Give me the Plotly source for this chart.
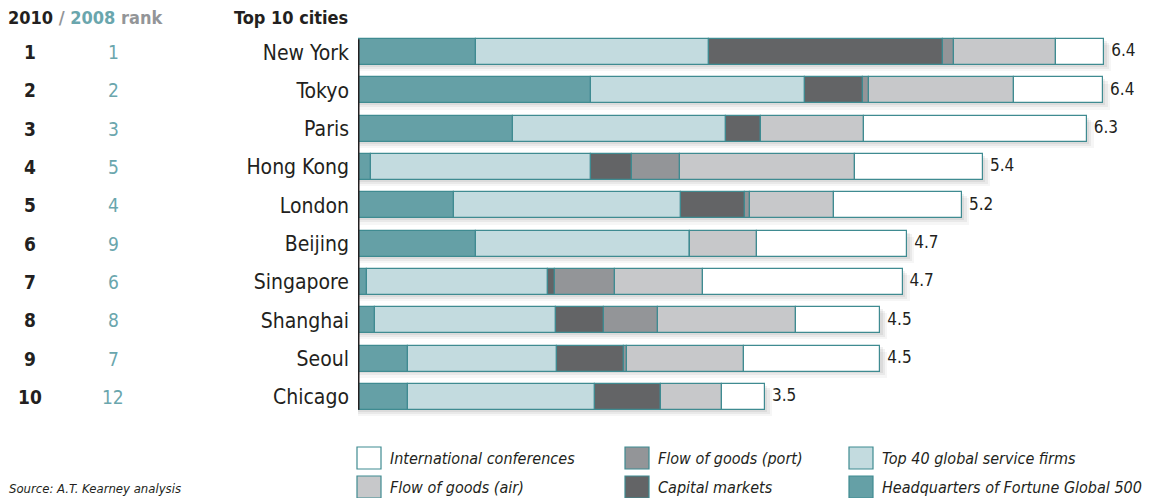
import plotly.graph_objects as go

cities = ["New York", "Tokyo", "Paris", "Hong Kong", "London", "Beijing",
          "Singapore", "Shanghai", "Seoul", "Chicago"]
rank_2010 = ["1", "2", "3", "4", "5", "6", "7", "8", "9", "10"]
rank_2008 = ["1", "2", "3", "5", "4", "9", "6", "8", "7", "12"]
totals = ["6.4", "6.4", "6.3", "5.4", "5.2", "4.7", "4.7", "4.5", "4.5", "3.5"]

hq_fortune = [1.01, 2.00, 1.33, 0.11, 0.82, 1.01, 0.08, 0.15, 0.43, 0.43]
top40_firms = [2.00, 1.83, 1.83, 1.89, 1.95, 1.84, 1.55, 1.55, 1.28, 1.60]
capital_mkts = [2.01, 0.50, 0.30, 0.35, 0.55, 0.00, 0.06, 0.41, 0.57, 0.57]
goods_port = [0.09, 0.05, 0.00, 0.41, 0.04, 0.00, 0.51, 0.46, 0.03, 0.00]
goods_air = [0.88, 1.25, 0.88, 1.50, 0.72, 0.57, 0.76, 1.19, 1.00, 0.52]
conferences = [0.41, 0.76, 1.91, 1.10, 1.10, 1.29, 1.71, 0.72, 1.17, 0.37]

series = [
    ("Headquarters of Fortune Global 500", hq_fortune, "#65a0a6"),
    ("Top 40 global service firms", top40_firms, "#c3dbdf"),
    ("Capital markets", capital_mkts, "#636466"),
    ("Flow of goods (port)", goods_port, "#939598"),
    ("Flow of goods (air)", goods_air, "#c7c8ca"),
    ("International conferences", conferences, "#ffffff"),
]

W, H = 1152, 498
ML, MR, MT, MB = 358, 0, 33, 82
PW, PH = W - ML - MR, H - MT - MB
SCALE = 116.6  # px per unit
XMAX = PW / SCALE
BAR_W = 0.68
BORDER = "#3f8b91"
DARK = "#231f20"
TEAL_TXT = "#6aa6ad"
GREY_TXT = "#939598"
FONT = "Liberation Sans Narrow, DejaVu Sans Condensed, Roboto, sans-serif"


def px_x(px):
    return (px - ML) / PW


def px_y(py):
    return (H - MB - py) / PH


fig = go.Figure()
idx = list(range(len(cities)))
sums = [sum(s[1][i] for s in series) for i in idx]

# soft drop shadow beneath each bar
for dy, dx, alpha in [(0.16, 0.06, 0.035), (0.10, 0.04, 0.05), (0.05, 0.02, 0.06)]:
    fig.add_trace(go.Bar(
        y=idx, x=[s + dx for s in sums], base=[0] * len(idx), orientation="h",
        width=BAR_W, offset=-BAR_W / 2 + dy,
        marker=dict(color="rgba(0,0,0,%s)" % alpha, line=dict(width=0)),
        showlegend=False, hoverinfo="skip",
    ))

base = [0.0] * len(idx)
for name, vals, col in series:
    fig.add_trace(go.Bar(
        y=idx, x=vals, base=list(base), orientation="h", name=name,
        width=BAR_W, offset=-BAR_W / 2,
        marker=dict(color=col, line=dict(color=BORDER, width=1.2)),
        showlegend=False, hoverinfo="x+name",
    ))
    base = [b + v for b, v in zip(base, vals)]

# totals labels
fig.add_trace(go.Scatter(
    y=idx, x=[s + 0.06 for s in sums], mode="text", text=totals,
    textposition="middle right",
    textfont=dict(family=FONT, size=17, color=DARK), showlegend=False,
    hoverinfo="skip",
))

shapes = [dict(type="line", xref="x", yref="y", x0=0, x1=0,
               y0=-BAR_W / 2, y1=len(cities) - 1 + BAR_W / 2,
               line=dict(color=DARK, width=3))]
annotations = []

# rank columns
for i in idx:
    annotations.append(dict(xref="paper", yref="y", x=px_x(30), y=i,
                            text="<b>%s</b>" % rank_2010[i], showarrow=False,
                            font=dict(family=FONT, size=19, color=DARK),
                            xanchor="center", yanchor="middle"))
    annotations.append(dict(xref="paper", yref="y", x=px_x(113), y=i,
                            text=rank_2008[i], showarrow=False,
                            font=dict(family=FONT, size=19, color=TEAL_TXT),
                            xanchor="center", yanchor="middle"))

# headers
annotations.append(dict(
    xref="paper", yref="paper", x=px_x(6), y=px_y(17),
    text=("<b><span style='color:%s'>2010</span> <span style='color:%s'>/</span> "
          "<span style='color:%s'>2008</span> <span style='color:%s'>rank</span></b>")
    % (DARK, GREY_TXT, TEAL_TXT, GREY_TXT),
    showarrow=False, xanchor="left", yanchor="middle",
    font=dict(family=FONT, size=18, color=DARK)))
annotations.append(dict(
    xref="paper", yref="paper", x=px_x(350), y=px_y(17),
    text="<b>Top 10 cities</b>", showarrow=False, xanchor="right",
    yanchor="middle", font=dict(family=FONT, size=18, color=DARK)))

# source
annotations.append(dict(
    xref="paper", yref="paper", x=px_x(7), y=px_y(488),
    text="<i>Source: A.T. Kearney analysis</i>", showarrow=False,
    xanchor="left", yanchor="middle",
    font=dict(family=FONT, size=13, color=DARK)))

# legend
legend_layout = [
    ("International conferences", 357, 458),
    ("Flow of goods (air)", 357, 487),
    ("Flow of goods (port)", 625, 458),
    ("Capital markets", 625, 487),
    ("Top 40 global service firms", 849, 458),
    ("Headquarters of Fortune Global 500", 849, 487),
]
colmap = {n: c for n, _, c in series}
for name, lx, ly in legend_layout:
    shapes.append(dict(type="rect", xref="paper", yref="paper",
                       x0=px_x(lx), x1=px_x(lx + 24),
                       y0=px_y(ly + 11), y1=px_y(ly - 11),
                       fillcolor=colmap[name], line=dict(color=BORDER, width=1.2)))
    annotations.append(dict(xref="paper", yref="paper", x=px_x(lx + 31),
                            y=px_y(ly), text="<i>%s</i>" % name,
                            showarrow=False, xanchor="left", yanchor="middle",
                            font=dict(family=FONT, size=16, color=DARK)))

fig.update_layout(
    width=W, height=H, barmode="overlay", bargap=0,
    margin=dict(l=ML, r=MR, t=MT, b=MB, pad=0),
    paper_bgcolor="white", plot_bgcolor="white",
    xaxis=dict(range=[0, XMAX], visible=False, fixedrange=True),
    yaxis=dict(range=[len(cities) - 0.5, -0.5], tickmode="array",
               tickvals=idx, ticktext=cities, showgrid=False, zeroline=False,
               showline=False, ticks="", ticklabelstandoff=8,
               tickfont=dict(family=FONT, size=21, color=DARK),
               fixedrange=True),
    shapes=shapes, annotations=annotations,
)

fig.write_html("out.html")
